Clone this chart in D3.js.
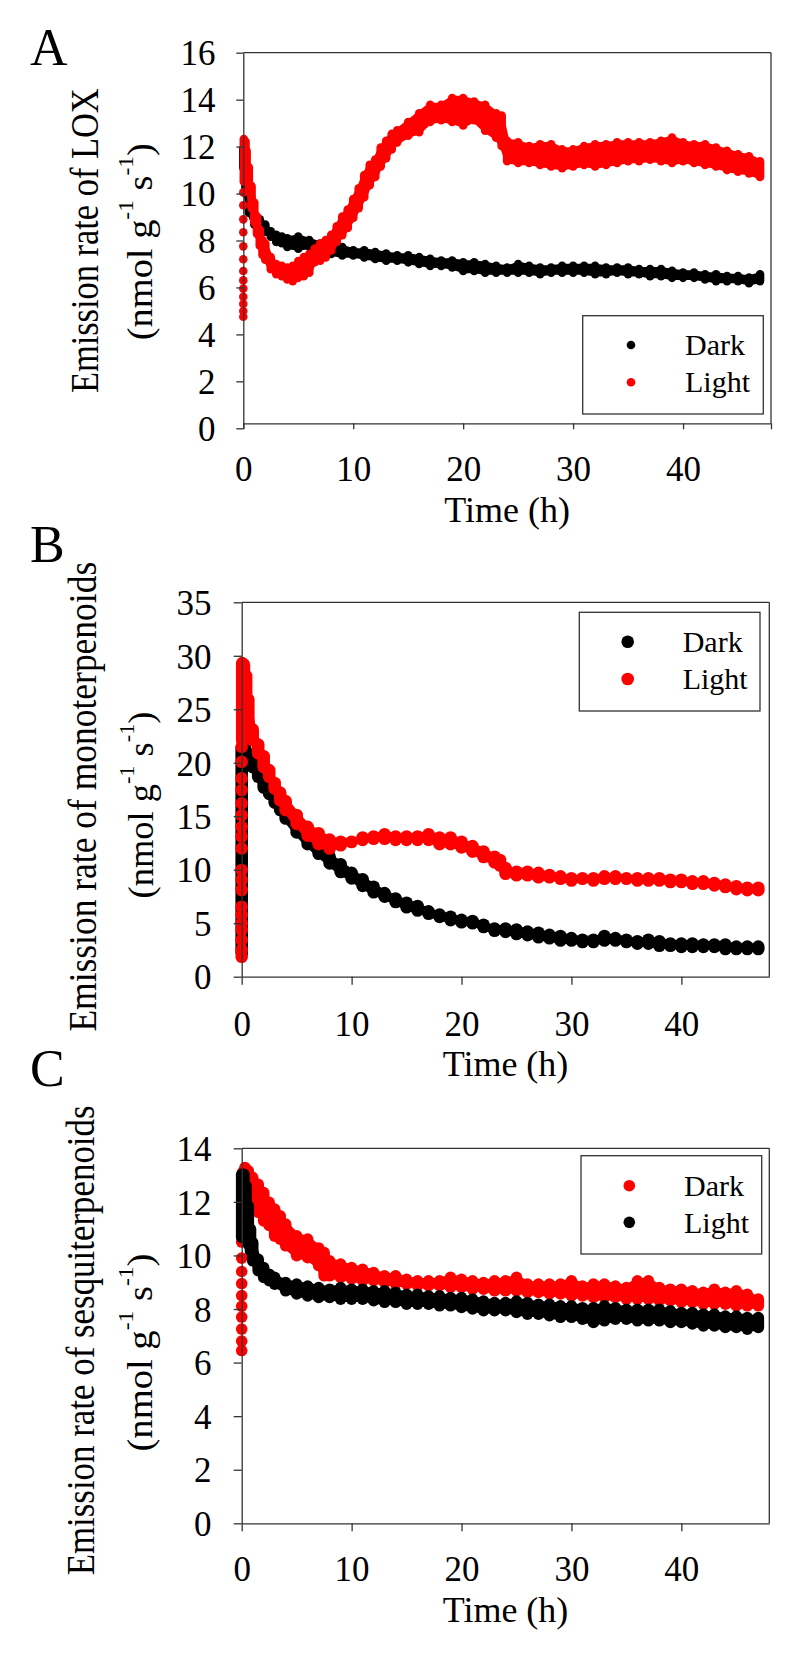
<!DOCTYPE html>
<html>
<head>
<meta charset="utf-8">
<script src="https://cdn.jsdelivr.net/npm/d3@7"></script>
<style>
body { margin: 0; background: #fff; }
text { font-family: "Liberation Serif", "Times New Roman", serif; fill: #000; }
</style>
</head>
<body>
<script>
var w = 800;
var h = 1657;

// tick labels
var xTicks = [0, 10, 20, 30, 40];
var yTicksA = [0, 2, 4, 6, 8, 10, 12, 14, 16];
var yTicksB = [0, 5, 10, 15, 20, 25, 30, 35];
var yTicksC = [0, 2, 4, 6, 8, 10, 12, 14];

// A - LOX. each series is read as the low / high edge of the band of dots
var tDarkA = [0, 0.2, 0.5, 1, 1.5, 2, 2.5, 3, 3.5, 4, 5, 6, 7, 8, 9, 10, 11, 12, 13, 14, 15, 16, 17, 18, 19, 20, 21, 22, 23, 24, 25, 26, 27, 28, 29, 30, 31, 32, 33, 34, 35, 36, 37, 38, 39, 40, 41, 42, 43, 44, 45, 46, 47];
var hiDarkA = [11.92, 10.9, 9.62, 8.97, 8.9, 8.68, 8.39, 8.24, 8.17, 8.09, 8.17, 8.02, 7.87, 7.8, 7.72, 7.58, 7.58, 7.51, 7.44, 7.37, 7.37, 7.29, 7.22, 7.15, 7.15, 7.07, 7.07, 7.0, 6.92, 6.85, 7.0, 6.92, 6.85, 6.85, 6.92, 6.92, 6.92, 6.92, 6.85, 6.85, 6.85, 6.78, 6.78, 6.78, 6.71, 6.64, 6.64, 6.56, 6.56, 6.49, 6.49, 6.42, 6.56];
var loDarkA = [11.1, 10.0, 9.18, 8.68, 8.6, 8.38, 8.16, 7.94, 7.88, 7.73, 7.65, 7.73, 7.65, 7.43, 7.36, 7.36, 7.28, 7.21, 7.14, 7.14, 7.07, 7.0, 6.92, 6.92, 6.85, 6.7, 6.7, 6.63, 6.63, 6.63, 6.63, 6.63, 6.56, 6.63, 6.63, 6.63, 6.63, 6.56, 6.56, 6.63, 6.56, 6.56, 6.48, 6.48, 6.41, 6.41, 6.41, 6.34, 6.27, 6.27, 6.27, 6.18, 6.27];

var tLightA = [0.05, 0.2, 0.3, 0.5, 0.75, 1, 1.25, 1.5, 1.75, 2, 2.5, 3, 3.5, 4, 4.5, 5, 5.5, 6, 6.5, 7, 7.5, 8, 8.5, 9, 9.5, 10, 10.5, 11, 11.5, 12, 12.5, 13, 13.5, 14, 15, 16, 17, 18, 19, 20, 21, 22, 23, 23.5, 24, 25, 26, 27, 28, 29, 30, 31, 32, 33, 34, 35, 36, 37, 38, 39, 40, 41, 42, 43, 44, 45, 46, 47];
var hiLightA = [12.32, 12.22, 11.82, 11.12, 10.32, 9.62, 9.02, 8.46, 8.02, 7.87, 7.29, 7.0, 6.92, 6.85, 6.92, 7.12, 7.29, 7.42, 7.66, 7.87, 8.02, 8.24, 8.6, 9.02, 9.32, 9.77, 10.22, 10.79, 11.22, 11.45, 11.96, 12.25, 12.54, 12.69, 13.05, 13.42, 13.78, 13.78, 14.07, 14.07, 13.92, 13.78, 13.42, 13.32, 12.25, 12.18, 12.02, 12.1, 12.1, 11.88, 11.88, 12.02, 12.1, 12.1, 12.18, 12.18, 12.18, 12.18, 12.25, 12.39, 12.18, 12.1, 12.1, 11.96, 11.82, 11.67, 11.59, 11.37];
var loLightA = [10.5, 11.38, 10.78, 10.08, 9.38, 8.78, 8.28, 7.78, 7.38, 7.18, 6.78, 6.56, 6.48, 6.34, 6.27, 6.41, 6.48, 6.63, 7.08, 7.14, 7.28, 7.58, 7.94, 8.23, 8.53, 8.96, 9.38, 9.84, 10.35, 10.71, 11.15, 11.51, 11.88, 12.18, 12.46, 12.61, 13.05, 13.12, 13.05, 12.9, 13.12, 12.68, 12.38, 12.03, 11.38, 11.3, 11.3, 11.22, 11.15, 11.08, 11.15, 11.22, 11.15, 11.22, 11.3, 11.38, 11.38, 11.44, 11.38, 11.3, 11.38, 11.3, 11.22, 11.15, 11.0, 10.93, 10.86, 10.71];
// single dots at time 0
var spikeLightA = [4.75, 5.0, 5.3, 5.6, 5.95, 6.3, 6.7, 7.2, 7.75, 8.35, 8.9, 9.5, 10.05];

// B - monoterpenoids
var tDarkB = [0, 0.15, 0.3, 0.5, 1, 1.5, 2, 2.5, 3, 3.5, 4, 5, 6, 7, 8, 9, 10, 11, 12, 13, 14, 15, 16, 17, 18, 19, 20, 21, 22, 23, 24, 25, 26, 27, 28, 29, 30, 31, 32, 33, 34, 35, 36, 37, 38, 39, 40, 41, 42, 43, 44, 45, 46, 47];
var hiDarkB = [21.41, 21.7, 21.41, 20.91, 20.01, 19.21, 18.41, 17.61, 16.91, 16.11, 15.31, 14.01, 13.01, 12.01, 11.21, 10.51, 9.71, 9.11, 8.41, 7.81, 7.31, 6.91, 6.61, 6.11, 5.81, 5.61, 5.31, 5.21, 4.86, 4.51, 4.51, 4.41, 4.21, 4.11, 3.91, 3.81, 3.61, 3.46, 3.46, 3.81, 3.61, 3.46, 3.31, 3.46, 3.31, 3.11, 3.11, 3.11, 3.01, 3.01, 3.01, 2.81, 2.81, 2.81];
var loDarkB = [2.19, 20.6, 20.49, 20.49, 19.59, 18.69, 17.69, 17.09, 16.29, 15.59, 14.79, 13.49, 12.39, 11.49, 10.59, 9.79, 9.19, 8.49, 7.89, 7.49, 6.99, 6.49, 6.19, 5.89, 5.59, 5.29, 5.09, 4.99, 4.64, 4.29, 4.19, 3.99, 3.89, 3.69, 3.59, 3.39, 3.39, 3.24, 3.24, 3.39, 3.39, 3.24, 3.09, 3.09, 2.89, 2.89, 2.79, 2.79, 2.79, 2.79, 2.59, 2.59, 2.59, 2.59];

var tLightB = [0.05, 0.2, 0.4, 0.6, 1, 1.5, 2, 2.5, 3, 3.5, 4, 5, 6, 7, 8, 9, 10, 11, 12, 13, 14, 15, 16, 17, 18, 19, 20, 21, 22, 23, 23.5, 24, 25, 26, 27, 28, 29, 30, 31, 32, 33, 34, 35, 36, 37, 38, 39, 40, 41, 42, 43, 44, 45, 46, 47];
var hiLightB = [29.31, 29.17, 28.11, 25.91, 23.11, 21.71, 20.61, 19.31, 18.11, 17.21, 16.41, 15.11, 14.01, 13.41, 12.81, 12.61, 12.61, 13.01, 13.11, 13.31, 13.11, 13.11, 13.11, 13.31, 13.01, 13.01, 12.61, 12.21, 11.71, 11.21, 10.91, 10.16, 9.81, 9.81, 9.71, 9.51, 9.38, 9.21, 9.21, 9.21, 9.38, 9.38, 9.21, 9.21, 9.21, 9.21, 9.07, 9.07, 8.91, 8.91, 8.76, 8.61, 8.45, 8.31, 8.31];
var loLightB = [22.09, 24.89, 23.99, 23.29, 22.09, 20.89, 19.59, 18.69, 17.59, 16.49, 15.59, 14.29, 13.19, 12.39, 11.99, 12.29, 12.59, 12.79, 12.89, 12.89, 12.79, 12.79, 12.79, 12.79, 12.39, 12.39, 12.09, 11.69, 11.19, 10.69, 10.39, 9.63, 9.49, 9.49, 9.29, 9.29, 9.16, 8.99, 9.16, 8.99, 9.16, 9.16, 9.16, 8.99, 8.99, 8.99, 8.85, 8.85, 8.69, 8.69, 8.54, 8.39, 8.19, 8.09, 8.09];
var spikeLightB = [1.87, 2.49, 3.43, 4.36, 4.99, 5.77, 6.54, 8.1, 9.04, 9.97, 12.0, 13.1, 14.0, 15.1, 16.2, 17.45, 18.54, 20.1, 21.5];

// C - sesquiterpenoids (red is "Dark" here, black is "Light")
var tDarkC = [0.1, 0.3, 0.6, 1, 1.5, 2, 2.5, 3, 3.5, 4, 5, 6, 7, 7.5, 8, 9, 10, 11, 12, 13, 14, 15, 16, 17, 18, 19, 20, 21, 22, 23, 24, 25, 26, 27, 28, 29, 30, 31, 32, 33, 34, 35, 36, 37, 38, 39, 40, 41, 42, 43, 44, 45, 46, 47];
var hiDarkC = [13.1, 13.28, 13.16, 12.91, 12.66, 12.35, 11.98, 11.73, 11.48, 11.17, 10.73, 10.61, 10.28, 10.11, 9.8, 9.68, 9.55, 9.48, 9.36, 9.24, 9.24, 9.11, 9.05, 9.05, 9.05, 9.18, 9.11, 9.05, 8.99, 9.05, 9.05, 9.18, 8.93, 8.93, 8.93, 8.93, 9.05, 8.86, 8.93, 8.93, 8.86, 8.8, 9.05, 9.05, 8.8, 8.74, 8.74, 8.68, 8.62, 8.74, 8.62, 8.68, 8.55, 8.37];
var loDarkC = [10.7, 11.85, 12.17, 11.92, 11.61, 11.29, 11.12, 10.72, 10.61, 10.36, 9.99, 9.92, 9.62, 9.24, 9.24, 9.18, 9.12, 9.06, 9.06, 8.99, 8.93, 8.93, 8.87, 8.87, 8.87, 8.81, 8.81, 8.74, 8.74, 8.68, 8.68, 8.68, 8.62, 8.62, 8.56, 8.56, 8.49, 8.49, 8.43, 8.43, 8.43, 8.37, 8.37, 8.37, 8.31, 8.31, 8.25, 8.25, 8.18, 8.18, 8.18, 8.12, 8.12, 8.12];
var spikeDarkC = [6.45, 6.8, 7.25, 7.7, 8.1, 8.5, 8.95, 9.4, 9.9, 10.5];

var tLightC = [0, 0.2, 0.4, 0.6, 0.8, 1, 1.5, 2, 2.5, 3, 4, 5, 6, 7, 8, 9, 10, 11, 12, 13, 14, 15, 16, 17, 18, 19, 20, 21, 22, 23, 24, 25, 26, 27, 28, 29, 30, 31, 32, 33, 34, 35, 36, 37, 38, 39, 40, 41, 42, 43, 44, 45, 46, 47];
var hiLightC = [13.03, 13.03, 12.6, 11.85, 10.98, 10.48, 9.86, 9.55, 9.3, 9.18, 8.99, 8.93, 8.86, 8.8, 8.74, 8.8, 8.74, 8.74, 8.68, 8.68, 8.62, 8.55, 8.55, 8.49, 8.49, 8.43, 8.43, 8.37, 8.3, 8.24, 8.24, 8.3, 8.24, 8.18, 8.18, 8.12, 8.12, 8.05, 8.05, 8.12, 8.05, 7.99, 7.99, 7.99, 7.99, 7.93, 7.87, 7.87, 7.81, 7.81, 7.74, 7.74, 7.68, 7.68];
var loLightC = [10.67, 11.29, 10.92, 10.42, 10.17, 9.8, 9.43, 9.18, 9.06, 8.93, 8.68, 8.56, 8.49, 8.43, 8.43, 8.37, 8.37, 8.37, 8.31, 8.25, 8.25, 8.18, 8.18, 8.18, 8.12, 8.12, 8.06, 8.0, 7.94, 7.94, 7.94, 7.87, 7.81, 7.81, 7.75, 7.69, 7.69, 7.62, 7.5, 7.56, 7.62, 7.62, 7.56, 7.56, 7.56, 7.5, 7.5, 7.44, 7.37, 7.37, 7.31, 7.31, 7.25, 7.31];

var RED = "#ff0000";
var BLACK = "#000000";
var AXIS = "#333333";

var panels = [
  {
    letter: "A", yMax: 16, yTicks: yTicksA, label: "Emission rate of LOX",
    series: [
      { name: "Dark", color: BLACK, t: tDarkA, lo: loDarkA, hi: hiDarkA },
      { name: "Light", color: RED, t: tLightA, lo: loLightA, hi: hiLightA, spike: spikeLightA }
    ],
    L: { x0: 243.3, x1: 771, y0: 428.3, yTop: 52.7, fb: 423.3, r: 4.3, yTick: 7, xTick: 6, yLabEnd: 215.5,
         xLabBase: 481.5, titleBase: 521.5, letterY: 65, extraTick: 48,
         l1x: 98, l1y: 240.7, l1len: 305, l2x: 152, l2y: 241.7, l2len: 197,
         lg: { x: 582.7, y: 315.7, w: 180.6, h: 98.3, dx: 631, dy: [345, 382.3], tx: 685, ty: [355, 391.7] } }
  },
  {
    letter: "B", yMax: 35, yTicks: yTicksB, label: "Emission rate of monoterpenoids",
    series: [
      { name: "Dark", color: BLACK, t: tDarkB, lo: loDarkB, hi: hiDarkB },
      { name: "Light", color: RED, t: tLightB, lo: loLightB, hi: hiLightB, spike: spikeLightB }
    ],
    L: { x0: 241.7, x1: 769.3, y0: 976.7, yTop: 602.3, fb: 976.7, r: 6.3, yTick: 8, xTick: 8, yLabEnd: 211.5,
         xLabBase: 1036.5, titleBase: 1076, letterY: 562,
         l1x: 95.5, l1y: 796.7, l1len: 470, l2x: 153, l2y: 805, l2len: 187,
         lg: { x: 579.3, y: 612.3, w: 180.7, h: 98.7, dx: 627.7, dy: [641.7, 679], tx: 682.7, ty: [651.7, 689] } }
  },
  {
    letter: "C", yMax: 14, yTicks: yTicksC, label: "Emission rate of sesquiterpenoids",
    series: [
      { name: "Dark", color: RED, t: tDarkC, lo: loDarkC, hi: hiDarkC, spike: spikeDarkC },
      { name: "Light", color: BLACK, t: tLightC, lo: loLightC, hi: hiLightC }
    ],
    L: { x0: 241.7, x1: 769.3, y0: 1523.3, yTop: 1148.3, fb: 1523.3, r: 5.8, yTick: 8, xTick: 8, yLabEnd: 211.5,
         xLabBase: 1581.5, titleBase: 1621.5, letterY: 1086,
         l1x: 94, l1y: 1340.4, l1len: 470, l2x: 151.5, l2y: 1352.5, l2len: 198,
         lg: { x: 581, y: 1155.7, w: 180.7, h: 98.3, dx: 629.3, dy: [1185.7, 1222.3], tx: 684, ty: [1196, 1232.7] } }
  }
];

var svg = d3.select("body").append("svg")
  .attr("width", w)
  .attr("height", h);

function drawPanel(p) {
  var L = p.L;
  var x = d3.scaleLinear().domain([0, 48]).range([L.x0, L.x1]);
  var y = d3.scaleLinear().domain([0, p.yMax]).range([L.y0, L.yTop]);
  var g = svg.append("g");

  // dots: a filled band plus a capsule at every reading
  p.series.forEach(function(s) {
    var pts = s.t.map(function(t, i) { return { t: t, lo: s.lo[i], hi: s.hi[i] }; });
    var area = d3.area()
      .x(function(d) { return x(d.t); })
      .y0(function(d) { return y(d.lo); })
      .y1(function(d) { return y(d.hi); });
    g.append("path")
      .attr("d", area(pts))
      .attr("fill", s.color)
      .attr("stroke", s.color)
      .attr("stroke-width", L.r)
      .attr("stroke-linejoin", "round");
    g.append("g").selectAll("line")
      .data(pts)
      .enter()
      .append("line")
      .attr("x1", function(d) { return x(d.t); })
      .attr("x2", function(d) { return x(d.t); })
      .attr("y1", function(d) { return y(d.lo); })
      .attr("y2", function(d) { return y(d.hi); })
      .attr("stroke", s.color)
      .attr("stroke-width", 2 * L.r)
      .attr("stroke-linecap", "round");
    if (s.spike) {
      g.append("g").selectAll("circle")
        .data(s.spike)
        .enter()
        .append("circle")
        .attr("cx", x(0))
        .attr("cy", function(d) { return y(d); })
        .attr("r", L.r)
        .attr("fill", s.color);
    }
  });

  // frame top / right
  g.append("line").attr("x1", L.x0).attr("x2", L.x1).attr("y1", L.yTop).attr("y2", L.yTop)
    .attr("stroke", AXIS).attr("stroke-width", 1.3);
  g.append("line").attr("x1", L.x1).attr("x2", L.x1).attr("y1", L.yTop).attr("y2", L.fb)
    .attr("stroke", AXIS).attr("stroke-width", 1.3);

  // y axis
  var yAxis = d3.axisLeft(y)
    .tickValues(p.yTicks)
    .tickSize(L.yTick)
    .tickSizeOuter(0)
    .tickPadding(L.x0 - L.yTick - L.yLabEnd);
  var ya = g.append("g")
    .attr("transform", "translate(" + L.x0 + ",0)")
    .attr("color", AXIS)
    .call(yAxis);
  ya.selectAll("path, line").attr("stroke-width", 1.3);
  ya.selectAll("text").attr("fill", "#000").attr("font-size", 35).attr("dy", "0.35em");

  // x axis
  var xv = L.extraTick ? xTicks.concat([L.extraTick]) : xTicks;
  var xAxis = d3.axisBottom(x)
    .tickValues(xv)
    .tickSize(L.xTick)
    .tickSizeOuter(0)
    .tickFormat(function(d) { return xTicks.indexOf(d) >= 0 ? d : ""; });
  var xa = g.append("g")
    .attr("transform", "translate(0," + L.fb + ")")
    .attr("color", AXIS)
    .call(xAxis);
  xa.selectAll("path, line").attr("stroke-width", 1.3);
  xa.selectAll("text").attr("fill", "#000").attr("font-size", 35)
    .attr("y", L.xLabBase - L.fb).attr("dy", 0);

  g.append("text")
    .attr("x", (L.x0 + L.x1) / 2)
    .attr("y", L.titleBase)
    .attr("text-anchor", "middle")
    .attr("font-size", 36)
    .text("Time (h)");

  // panel letter
  g.append("text")
    .attr("x", 30)
    .attr("y", L.letterY)
    .attr("font-size", 52)
    .text(p.letter);

  // y label, two lines, squeezed to the measured length
  var t1 = g.append("text")
    .attr("text-anchor", "middle")
    .attr("font-size", 39)
    .text(p.label);
  var s1 = L.l1len / t1.node().getComputedTextLength();
  t1.attr("transform", "translate(" + L.l1x + "," + L.l1y + ") rotate(-90) scale(" + s1 + ",1)");

  var t2 = g.append("text")
    .attr("text-anchor", "middle")
    .attr("font-size", 36);
  t2.append("tspan").text("(nmol g");
  t2.append("tspan").attr("font-size", 22).attr("dy", -19).text("-1");
  t2.append("tspan").attr("dy", 19).text("\u00a0s");
  t2.append("tspan").attr("font-size", 22).attr("dy", -19).text("-1");
  t2.append("tspan").attr("dy", 19).text(")");
  var s2 = L.l2len / t2.node().getComputedTextLength();
  t2.attr("transform", "translate(" + L.l2x + "," + L.l2y + ") rotate(-90) scale(" + s2 + ",1)");

  // legend
  var lg = L.lg;
  g.append("rect")
    .attr("x", lg.x).attr("y", lg.y).attr("width", lg.w).attr("height", lg.h)
    .attr("fill", "#fff").attr("stroke", AXIS).attr("stroke-width", 1.3);
  p.series.forEach(function(s, i) {
    g.append("circle").attr("cx", lg.dx).attr("cy", lg.dy[i]).attr("r", L.r).attr("fill", s.color);
    g.append("text").attr("x", lg.tx).attr("y", lg.ty[i]).attr("font-size", 30).text(s.name);
  });
}

panels.forEach(drawPanel);
</script>
</body>
</html>
